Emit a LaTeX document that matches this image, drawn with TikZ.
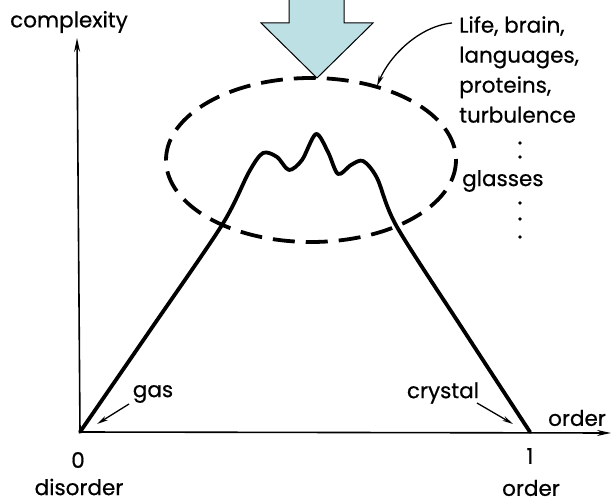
\documentclass[tikz,border=0pt]{standalone}
\usepackage{fontspec}
\setmainfont{Poppins}
\newfontfamily\lblfont{Poppins}[FakeBold=0.6]
\usetikzlibrary{arrows.meta}
\definecolor{arrowblue}{RGB}{189,224,228}
\begin{document}
\begin{tikzpicture}[x=1pt,y=-1pt,
  lbl/.style={inner sep=0pt,font=\lblfont\fontsize{21.5}{30}\selectfont},
  axisline/.style={line width=1.6pt},
  curveline/.style={line width=3.8pt,line join=round,line cap=round},
  pointer/.style={line width=1.3pt,-{Stealth[length=11pt,width=5pt]}},
  dashring/.style={line width=3.8pt,dash pattern=on 22pt off 11pt}]
\useasboundingbox (0,0) rectangle (612,502);
% axes
\coordinate (O) at (80,432);
\coordinate (ytip) at (77,38);
\coordinate (xtip) at (611,433);
\coordinate (E) at (530,432);
\draw[axisline,-{Stealth[length=14pt,width=6pt]}] (O) -- (ytip);
\draw[axisline,-{Stealth[length=14pt,width=6pt]}] (O) -- (xtip);
% ellipse
\draw[dashring] (311,160) ellipse [x radius=145, y radius=82];
% curve
\draw[curveline] plot[smooth,tension=0.5] coordinates {
 (80,432) (151,329) (222,225) (249,172) (263,153) (277,157) (289,170)
 (302,160) (316,134) (328,152) (338,174) (351,165) (363,161) (377,178)
 (397,227) (464,331) (530,432)};
% big arrow
\draw[fill=arrowblue,line width=1pt,line join=miter]
 (289,-2) -- (289,23) -- (261,23) -- (317,78) -- (373,23) -- (344,23) -- (344,-2);
% labels
\node[lbl] (cx) at (69,22) {complexity};
\node[lbl] (zero) at (78,460) {0};
\node[lbl] (dis) at (79,487) {disorder};
\node[lbl] (one) at (530,456) {1};
\node[lbl] (ord) at (531,488) {order};
\node[lbl] (ordax) at (577,418) {order};
\node[lbl] (gas) at (153,394) {gas};
\node[lbl] (cry) at (443,393) {crystal};
\node[lbl,anchor=north west,align=left] (life) at (459,16) {Life, brain,\\languages,\\proteins,\\turbulence};
\node[lbl,anchor=west] (gl) at (462,181) {glasses};
\foreach \yy in {143,157,203,219,237} \fill (520,\yy) circle (1.9);
% pointers
\coordinate (gastail) at (129,404);
\coordinate (gastip) at (97,424);
\coordinate (crytail) at (477,403);
\coordinate (crytip) at (513,424);
\coordinate (lifetail) at (452,23);
\coordinate (lifetip) at (377,86);
\draw[pointer] (gastail) -- (gastip);
\draw[pointer] (crytail) -- (crytip);
\draw[pointer] (lifetail) .. controls (420,26) and (390,55) .. (lifetip);
\end{tikzpicture}
\end{document}
